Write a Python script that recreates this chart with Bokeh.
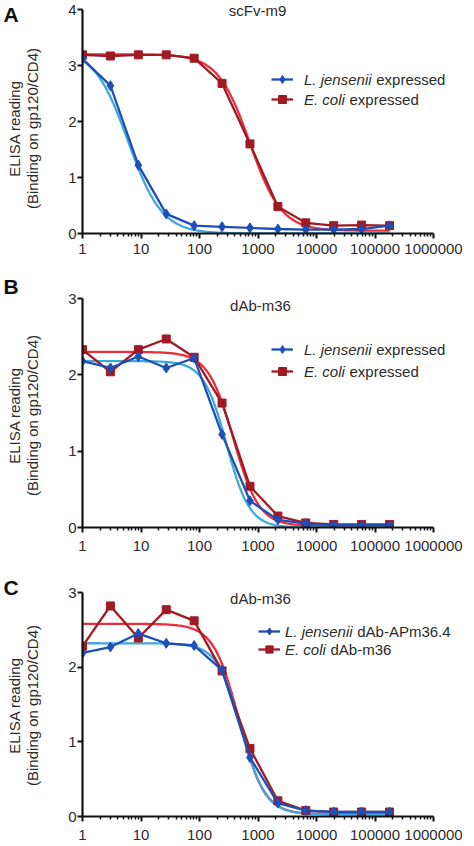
from math import pi, log10
import numpy as np
from bokeh.plotting import figure
from bokeh.layouts import column, row
from bokeh.models import Range1d, FixedTicker, Label, Legend, LegendItem, PrintfTickFormatter
from bokeh.embed import file_html
from bokeh.resources import INLINE

# ---------------- data ----------------
dilution = [1, 3, 9, 27, 81, 243, 729, 2187, 6561, 19683, 59049, 177147]
x_ticks = [1, 10, 100, 1000, 10000, 100000, 1000000]
x_tick_labels = ["1", "10", "100", "1000", "10000", "100000", "1000000"]

a_title = "scFv-m9"
a_y_ticks = [0, 1, 2, 3, 4]
a_jensenii = [3.12, 2.64, 1.22, 0.35, 0.14, 0.12, 0.10, 0.08, 0.07, 0.07, 0.08, 0.14]
a_coli = [3.19, 3.17, 3.19, 3.19, 3.13, 2.68, 1.60, 0.48, 0.19, 0.14, 0.15, 0.14]
# four-parameter logistic fits: top, bottom, EC50, Hill slope
a_fit_jensenii = [3.30, 0.00, 6.0, 1.5]
a_fit_coli = [3.20, 0.05, 720.0, 1.6]
a_legend = [("L. jensenii", "expressed"), ("E. coli", "expressed")]

b_title = "dAb-m36"
b_y_ticks = [0, 1, 2, 3]
b_jensenii = [2.18, 2.09, 2.24, 2.09, 2.22, 1.22, 0.35, 0.10, 0.05, 0.03, 0.03, 0.03]
b_coli = [2.33, 2.04, 2.33, 2.47, 2.23, 1.63, 0.54, 0.15, 0.06, 0.04, 0.04, 0.04]
b_fit_jensenii = [2.18, 0.00, 290.0, 2.2]
b_fit_coli = [2.30, 0.02, 380.0, 2.0]
b_legend = [("L. jensenii", "expressed"), ("E. coli", "expressed")]

c_title = "dAb-m36"
c_y_ticks = [0, 1, 2, 3]
c_jensenii = [2.19, 2.27, 2.45, 2.32, 2.29, 1.96, 0.79, 0.18, 0.08, 0.06, 0.06, 0.06]
c_coli = [2.28, 2.82, 2.39, 2.77, 2.62, 1.95, 0.91, 0.21, 0.08, 0.06, 0.06, 0.06]
c_fit_jensenii = [2.32, 0.03, 520.0, 2.1]
c_fit_coli = [2.58, 0.03, 470.0, 2.0]
c_legend = [("L. jensenii", "dAb-APm36.4"), ("E. coli", "dAb-m36")]

y_title_1 = "ELISA reading"
y_title_2 = "(Binding on gp120/CD4)"

# ---------------- style / geometry ----------------
FONT = "Liberation Sans"
TXT = "#2b2b2b"
DARK_BLUE = "#1E4FB8"
LIGHT_BLUE = "#3FA7DD"
DARK_RED = "#A01A24"
BRIGHT_RED = "#EC2D3A"
GUTTER = 45          # left strip holding the panel letter and the y title
MAIN_W = 474 - GUTTER
FRAME_LEFT = 37      # frame left inside the main figure (page x = 82)
DECADE_PX = 58.5     # width of one decade on the x axis

CHAR_W = {"L": .556, ".": .278, " ": .278, "j": .222, "e": .556, "n": .556,
          "s": .5, "i": .222, "E": .667, "c": .5, "o": .556, "l": .222}


def text_w(s, size=15):
    return sum(CHAR_W.get(ch, 0.556) for ch in s) * size


def fit_curve(params):
    top, bottom, ec50, hill = params
    xs = np.logspace(0, log10(dilution[-1]), 240)
    ys = bottom + (top - bottom) / (1.0 + (xs / ec50) ** hill)
    return xs, ys


def make_gutter(letter, cfg):
    frame_h = cfg["height"] - cfg["bottom"]
    g = figure(width=GUTTER, height=cfg["height"], x_range=Range1d(0, 1), y_range=Range1d(0, 1),
               output_backend="svg", toolbar_location=None,
               x_axis_location=None, y_axis_location=None,
               min_border_left=0, min_border_right=0, min_border_top=0,
               min_border_bottom=cfg["bottom"])
    g.outline_line_color = None
    g.grid.visible = False
    g.add_layout(Label(x=3, y=frame_h - cfg["letter_top"], x_units="screen", y_units="screen",
                       text=letter, text_font=FONT, text_font_size="21px", text_font_style="bold",
                       text_color="#111111", text_align="left", text_baseline="middle"))
    for xo, t in ((14, y_title_1), (32, y_title_2)):
        g.add_layout(Label(x=xo, y=frame_h - cfg["ytitle_top"], x_units="screen",
                           y_units="screen", text=t, angle=pi / 2, text_font=FONT,
                           text_font_size="15px", text_color=TXT,
                           text_align="center", text_baseline="middle"))
    return g


def make_panel(title, y_ticks, jens, coli, fit_j, fit_c, legend_txt, cfg):
    frame_w = MAIN_W - FRAME_LEFT
    frame_h = cfg["height"] - cfg["bottom"]
    x_end = 10 ** (frame_w / DECADE_PX)
    y_end = y_ticks[-1] * frame_h / (frame_h - cfg["pad"])
    p = figure(width=MAIN_W, height=cfg["height"], x_axis_type="log",
               x_range=Range1d(x_ticks[0], x_end), y_range=Range1d(y_ticks[0], y_end),
               output_backend="svg", toolbar_location=None,
               min_border_left=FRAME_LEFT, min_border_right=0,
               min_border_top=0, min_border_bottom=cfg["bottom"])
    p.outline_line_color = None
    p.grid.visible = False
    p.background_fill_color = "white"
    p.border_fill_color = "white"

    # fitted curves
    fx, fy = fit_curve(fit_c)
    p.line(fx, fy, line_color=BRIGHT_RED, line_width=2.3)
    fx, fy = fit_curve(fit_j)
    p.line(fx, fy, line_color=LIGHT_BLUE, line_width=2.3)

    # data
    lc = p.line(dilution, coli, line_color=DARK_RED, line_width=2.3)
    sc = p.scatter(dilution, coli, marker="square", size=8, fill_color=DARK_RED, line_color=DARK_RED)
    lj = p.line(dilution, jens, line_color=DARK_BLUE, line_width=2.3)
    sj = p.scatter(dilution, jens, marker="diamond", size=10, fill_color=DARK_BLUE, line_color=DARK_BLUE)

    # axes
    xa = p.xaxis[0]
    xa.ticker = FixedTicker(ticks=x_ticks,
                            minor_ticks=[d * m for d in x_ticks[:-1] for m in range(2, 10)])
    xa.formatter = PrintfTickFormatter(format="%d")
    xa.major_label_overrides = {t: lab for t, lab in zip(x_ticks, x_tick_labels)}
    xa.bounds = (x_ticks[0], x_ticks[-1])
    ya = p.yaxis[0]
    ya.ticker = FixedTicker(ticks=y_ticks)
    ya.bounds = (y_ticks[0], y_ticks[-1])
    for ax in (xa, ya):
        ax.axis_line_width = 2.2
        ax.axis_line_color = "#111111"
        ax.major_tick_line_color = "#111111"
        ax.major_tick_line_width = 2
        ax.major_tick_in = 0
        ax.major_tick_out = 5
        ax.major_label_text_font = FONT
        ax.major_label_text_font_size = "15px"
        ax.major_label_text_color = TXT
    xa.minor_tick_line_color = "#111111"
    xa.minor_tick_line_width = 1.5
    xa.minor_tick_in = 0
    xa.minor_tick_out = 3
    xa.major_label_standoff = cfg["xstandoff"]
    ya.minor_tick_line_color = None
    ya.major_label_standoff = 1

    # legend: glyphs + italic species name
    gh, sp = cfg["gh"], cfg["sp"]
    row1 = cfg["row1"]
    H = 2 * gh + sp
    leg = Legend(items=[LegendItem(label=legend_txt[0][0], renderers=[lj, sj]),
                        LegendItem(label=legend_txt[1][0], renderers=[lc, sc])],
                 location=(cfg["lx"], row1 + gh / 2 - H), padding=0, margin=0, spacing=sp,
                 glyph_width=22, glyph_height=gh, label_height=gh,
                 label_standoff=cfg["lstand"], border_line_color=None,
                 background_fill_alpha=0, label_text_font=FONT,
                 label_text_font_size="15px", label_text_font_style="italic",
                 label_text_color=TXT)
    p.add_layout(leg)
    # regular part of each legend entry
    text_x0 = cfg["lx"] + 22 + cfg["lstand"]
    for i, (ital, reg) in enumerate(legend_txt):
        yy = row1 - i * (gh + sp)
        p.add_layout(Label(x=text_x0 + text_w(ital + " "), y=yy, x_units="screen", y_units="screen",
                           text=reg, text_font=FONT, text_font_size="15px",
                           text_color=TXT, text_baseline="middle", text_align="left"))

    # panel title
    p.add_layout(Label(x=cfg["title_x"], y=frame_h - cfg["title_top"], x_units="screen",
                       y_units="screen", text=title, text_font=FONT, text_font_size="15px",
                       text_color=TXT, text_align="center", text_baseline="middle"))
    return p


cfg_a = dict(height=275, bottom=42, pad=9, xstandoff=5, gh=20, sp=0, row1=154, lx=189, lstand=11,
             title_x=175, title_top=10, letter_top=14, ytitle_top=128)
cfg_b = dict(height=282, bottom=30, pad=23, xstandoff=8, gh=20, sp=2, row1=178, lx=189, lstand=11,
             title_x=178, title_top=30, letter_top=11, ytitle_top=140)
cfg_c = dict(height=289, bottom=30, pad=35, xstandoff=8, gh=18, sp=0, row1=185, lx=176, lstand=5,
             title_x=178, title_top=41, letter_top=30, ytitle_top=148)

panels = []
for letter, title, yt, j, c, fj, fc, lg, cfg in (
        ("A", a_title, a_y_ticks, a_jensenii, a_coli, a_fit_jensenii, a_fit_coli, a_legend, cfg_a),
        ("B", b_title, b_y_ticks, b_jensenii, b_coli, b_fit_jensenii, b_fit_coli, b_legend, cfg_b),
        ("C", c_title, c_y_ticks, c_jensenii, c_coli, c_fit_jensenii, c_fit_coli, c_legend, cfg_c)):
    panels.append(row(make_gutter(letter, cfg), make_panel(title, yt, j, c, fj, fc, lg, cfg), spacing=0))

layout = column(*panels, spacing=0)
open("out.html", "w").write(file_html(layout, INLINE))
